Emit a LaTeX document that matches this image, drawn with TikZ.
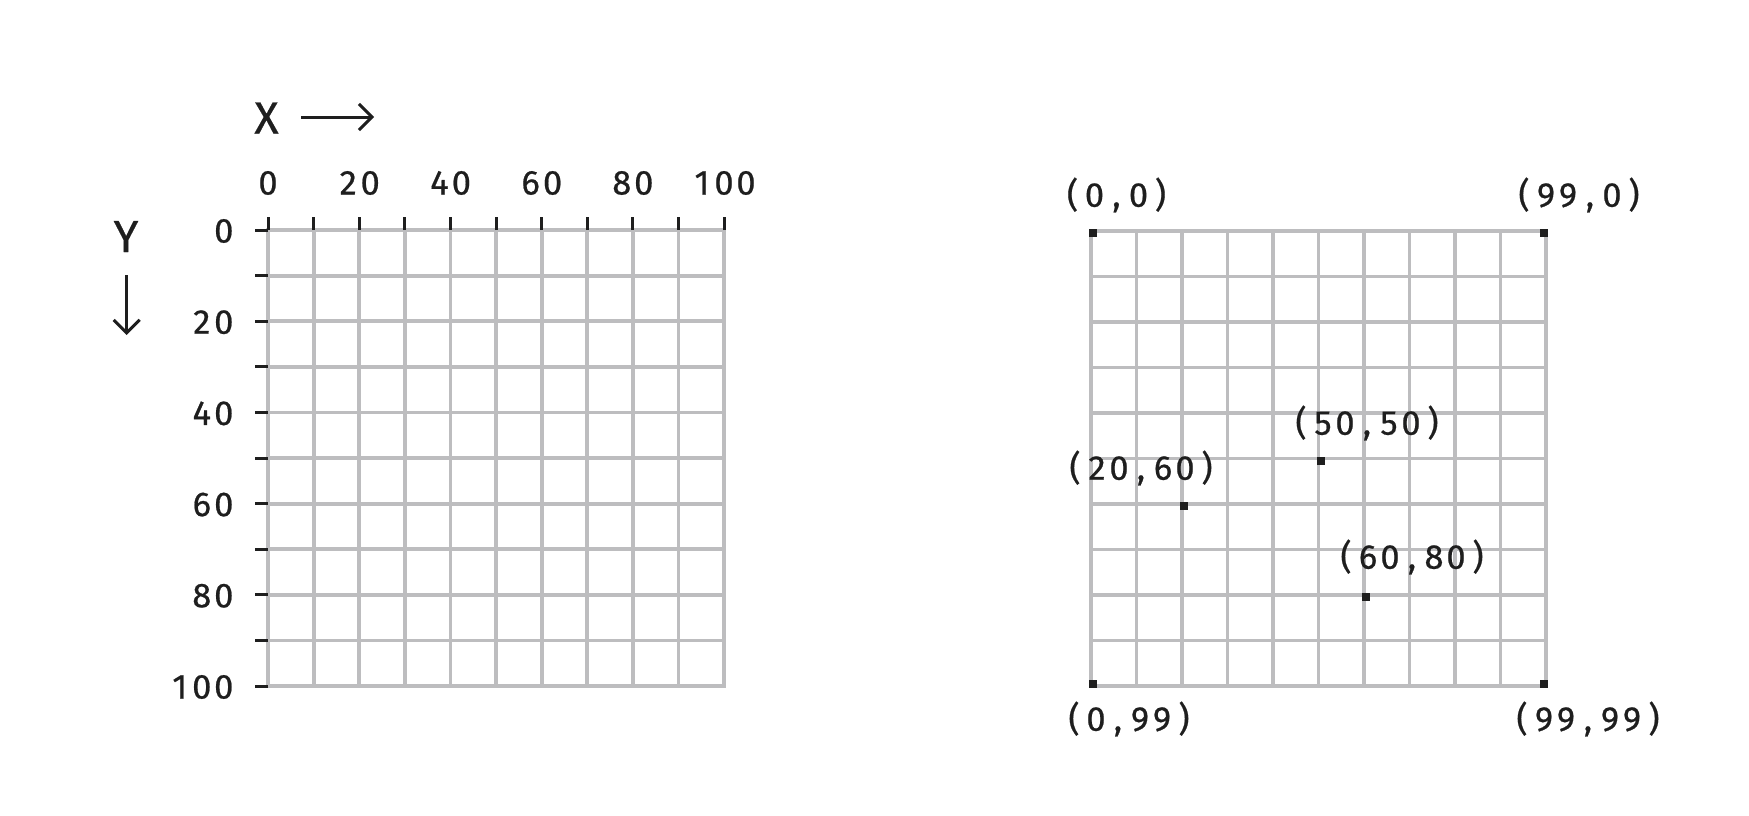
\documentclass[tikz,border=0pt]{standalone}
\usepackage{fontspec}
\setmainfont{Fira Sans}[FakeBold=0.6]
\usetikzlibrary{arrows.meta}
\definecolor{ink}{HTML}{1E1E1E}
\definecolor{gridgray}{HTML}{BDBDBF}
\newcommand\mcell[1]{\makebox[22pt][c]{#1}}
\def\monorun#1{\ifx#1\relax\else\mcell{#1}\expandafter\monorun\fi}
\tikzset{
  gl/.style={draw=gridgray, line width=3.8pt, line cap=rect},
  tickmark/.style={draw=ink, line width=3pt},
  lab/.style={text=ink, inner sep=0pt, font=\fontsize{34.5pt}{40pt}\selectfont},
  axlab/.style={text=ink, inner sep=0pt, font=\fontsize{45pt}{50pt}\selectfont},
  pt/.style={rectangle, fill=ink, minimum size=8pt, inner sep=0pt},
  axarrow/.style={draw=ink, line width=3pt, -{Straight Barb[length=13pt,width=26pt]}}
}
\begin{document}
\begin{tikzpicture}[x=1pt,y=-1pt]
\useasboundingbox (0,0) rectangle (1749,816);
\fill[white] (0,0) rectangle (1749,816);
% ---------- left grid ----------
\foreach \i in {0,...,10} {
  \draw[gl] ({268+\i*45.6},230) -- ({268+\i*45.6},686);
  \draw[gl] (268,{230+\i*45.6}) -- (724,{230+\i*45.6});
}
\foreach \i in {0,...,10} {
  \draw[tickmark] ({268+\i*45.6},230) -- ({268+\i*45.6},217);
  \draw[tickmark] (268,{230+\i*45.6}) -- (255,{230+\i*45.6});
}
\foreach \v [count=\k from 0] in {0,20,40,60,80,100} {
  \node[lab] (xl\k) at ({268+\k*91.2},183) {\expandafter\monorun\v\relax};
  \node[lab, anchor=east] (yl\k) at (235,{231+\k*91.2}) {\expandafter\monorun\v\relax};
}
\node[axlab] (X) at (266.5,118) {X};
\coordinate (xa1) at (301,117);
\coordinate (xa2) at (374,117);
\draw[axarrow] (xa1) -- (xa2);
\node[axlab] (Y) at (126,236.5) {Y};
\coordinate (ya1) at (126.7,275);
\coordinate (ya2) at (126.7,335);
\draw[axarrow] (ya1) -- (ya2);
% ---------- right grid ----------
\foreach \i in {0,...,10} {
  \draw[gl] ({1091+\i*45.5},231) -- ({1091+\i*45.5},686);
  \draw[gl] (1091,{231+\i*45.5}) -- (1546,{231+\i*45.5});
}
\foreach \nm/\px/\py in {a/0/0, b/99/0, c/0/99, d/99/99, e/50/50, f/20/60, g/60/80} {
  \node[pt] (p\nm) at ({1091+(\px+0.5)*4.55},{231+(\py+0.5)*4.55}) {};
}
\node[lab] (la) at (1116.5,195) {\monorun(0,0)\relax};
\node[lab] (lb) at (1579,195) {\monorun(99,0)\relax};
\node[lab] (lc) at (1129,719) {\monorun(0,99)\relax};
\node[lab] (ld) at (1588,719) {\monorun(99,99)\relax};
\node[lab] (le) at (1367,423) {\monorun(50,50)\relax};
\node[lab] (lf) at (1141,468) {\monorun(20,60)\relax};
\node[lab] (lg) at (1412,557) {\monorun(60,80)\relax};
\end{tikzpicture}
\end{document}
